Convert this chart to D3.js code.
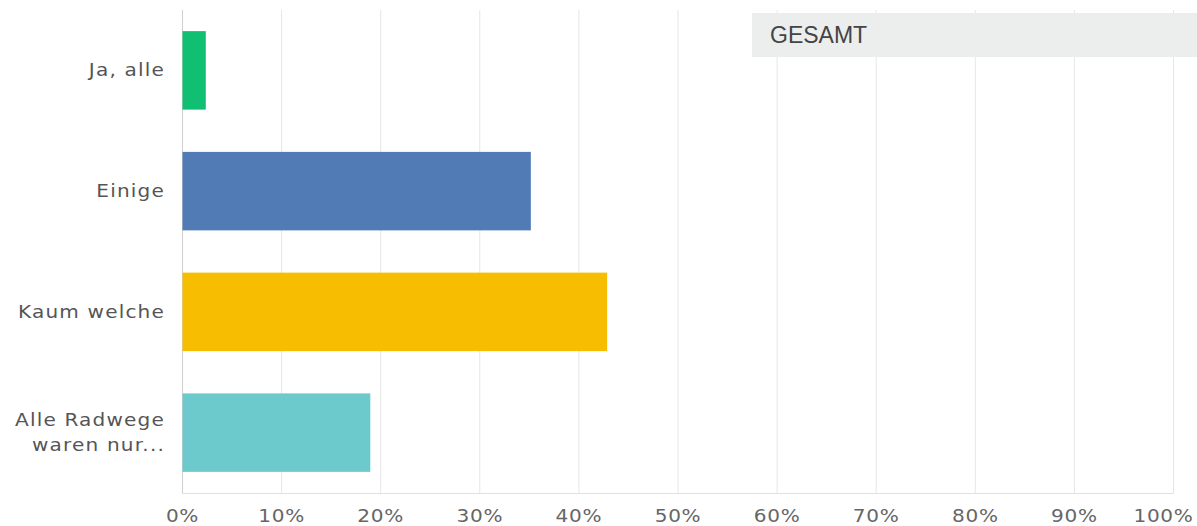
<!DOCTYPE html>
<html>
<head>
<meta charset="utf-8">
<script src="https://cdn.jsdelivr.net/npm/d3@7"></script>
<style>
  body { margin: 0; background: #fff; }
  svg { display: block; }
</style>
</head>
<body>
<div id="chart"></div>
<script>
// data
var categories = ["Ja, alle", "Einige", "Kaum welche", "Alle Radwege waren nur..."];
var labelLines = [["Ja, alle"], ["Einige"], ["Kaum welche"], ["Alle Radwege", "waren nur..."]];
var values = [2.4, 35.2, 42.9, 19.0];
var barColors = ["#10bf72", "#507bb5", "#f7bd00", "#6cc9cc"];
var xTicks = [0, 10, 20, 30, 40, 50, 60, 70, 80, 90, 100];

var svgWidth = 1197;
var svgHeight = 526;

var margin = { top: 10, right: 24, bottom: 33, left: 182 };
var width = svgWidth - margin.left - margin.right;
var height = svgHeight - margin.top - margin.bottom;

// the label font is drawn wide, so stretch it a little
var stretch = "scale(1.18, 1)";

var svg = d3.select("#chart")
  .append("svg")
  .attr("width", svgWidth)
  .attr("height", svgHeight);

var chartGroup = svg.append("g")
  .attr("transform", `translate(${margin.left}, ${margin.top})`);

var xScale = d3.scaleLinear()
  .domain([0, 100])
  .range([0, width]);

var yScale = d3.scaleBand()
  .domain(categories)
  .range([0, height])
  .paddingInner(0.35)
  .paddingOuter(0.175);

// vertical grid lines
chartGroup.selectAll(".grid")
  .data(xTicks)
  .enter()
  .append("line")
  .attr("class", "grid")
  .attr("x1", d => xScale(d) + 0.5)
  .attr("x2", d => xScale(d) + 0.5)
  .attr("y1", 0)
  .attr("y2", height)
  .attr("stroke", d => d === 0 ? "#cfcfcf" : "#e6e6e6")
  .attr("stroke-width", 1);

// bottom axis line
chartGroup.append("line")
  .attr("x1", 0)
  .attr("x2", width + 0.5)
  .attr("y1", height + 0.5)
  .attr("y2", height + 0.5)
  .attr("stroke", "#e0e0e0");

// "GESAMT" legend box
var legend = svg.append("g");
legend.append("rect")
  .attr("x", 752)
  .attr("y", 13)
  .attr("width", svgWidth - 752)
  .attr("height", 44)
  .attr("fill", "#eceeee");
legend.append("text")
  .attr("x", 770)
  .attr("y", 43)
  .attr("font-family", "Liberation Sans, Arial, sans-serif")
  .attr("font-size", 23)
  .attr("fill", "#444")
  .text("GESAMT");

// bars
chartGroup.selectAll(".bar")
  .data(categories)
  .enter()
  .append("rect")
  .attr("class", "bar")
  .attr("x", 0.5)
  .attr("y", d => yScale(d))
  .attr("width", (d, i) => xScale(values[i]) - 0.5)
  .attr("height", yScale.bandwidth())
  .attr("fill", (d, i) => barColors[i]);

// x axis tick labels
var bottomAxis = d3.axisBottom(xScale)
  .tickValues(xTicks)
  .tickFormat(d => d + "%")
  .tickSize(0)
  .tickPadding(17);

var xAxis = chartGroup.append("g")
  .attr("transform", `translate(0, ${height})`)
  .call(bottomAxis);
xAxis.select(".domain").remove();
xAxis.selectAll("text")
  .attr("font-family", "DejaVu Sans, sans-serif")
  .attr("font-size", 17)
  .attr("letter-spacing", 0.6)
  .attr("fill", "#666")
  .attr("transform", d => (d === 100 ? "translate(-10, 0) " : "") + stretch);

// category labels
var labelGroup = chartGroup.selectAll(".cat")
  .data(categories)
  .enter()
  .append("text")
  .attr("class", "cat")
  .attr("text-anchor", "end")
  .attr("font-family", "DejaVu Sans, sans-serif")
  .attr("font-size", 17)
  .attr("letter-spacing", 1)
  .attr("fill", "#555")
  .attr("transform", d => `translate(-17, ${yScale(d) + yScale.bandwidth() / 2}) ${stretch}`);

labelGroup.each(function(d, i) {
  var lines = labelLines[i];
  var t = d3.select(this);
  lines.forEach(function(line, j) {
    t.append("tspan")
      .attr("x", 0)
      .attr("y", (j - (lines.length - 1) / 2) * 25)
      .attr("dy", "0.35em")
      .text(line);
  });
});
</script>
</body>
</html>
